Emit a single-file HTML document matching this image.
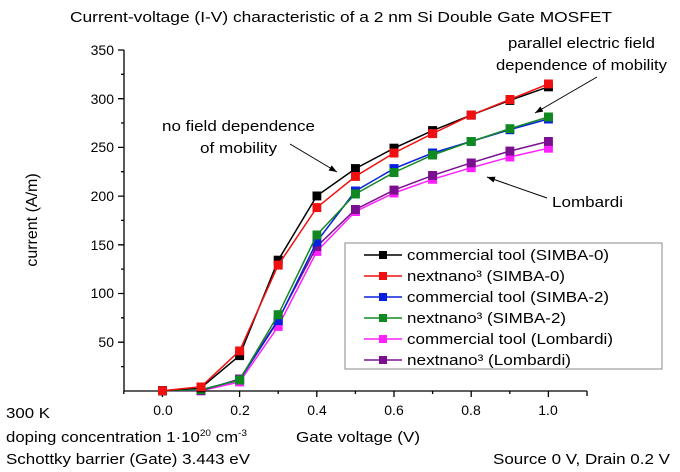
<!DOCTYPE html>
<html><head><meta charset="utf-8"><style>
html,body{margin:0;padding:0;background:#fff;}
svg{display:block;font-family:"Liberation Sans",Arial,sans-serif;}
</style></head><body>
<svg width="680" height="472" viewBox="0 0 680 472" xmlns="http://www.w3.org/2000/svg">
<defs>
<marker id="ah" markerWidth="8" markerHeight="6" refX="8" refY="3" orient="auto" markerUnits="userSpaceOnUse"><path d="M0,0 L8,3 L0,6 z" fill="#000"/></marker>
<marker id="m0" markerWidth="10" markerHeight="10" refX="4.5" refY="4.5" markerUnits="userSpaceOnUse"><rect width="9" height="9" fill="#000"/></marker>
<marker id="m1" markerWidth="10" markerHeight="10" refX="4.5" refY="4.5" markerUnits="userSpaceOnUse"><rect width="9" height="9" fill="#f01010"/></marker>
<marker id="m2" markerWidth="10" markerHeight="10" refX="4.5" refY="4.5" markerUnits="userSpaceOnUse"><rect width="9" height="9" fill="#0a20e0"/></marker>
<marker id="m3" markerWidth="10" markerHeight="10" refX="4.5" refY="4.5" markerUnits="userSpaceOnUse"><rect width="9" height="9" fill="#108a20"/></marker>
<marker id="m4" markerWidth="10" markerHeight="10" refX="4.5" refY="4.5" markerUnits="userSpaceOnUse"><rect width="9" height="9" fill="#ff20ff"/></marker>
<marker id="m5" markerWidth="10" markerHeight="10" refX="4.5" refY="4.5" markerUnits="userSpaceOnUse"><rect width="9" height="9" fill="#7a1090"/></marker>
</defs>
<rect width="680" height="472" fill="#fff"/>
<text x="70" y="22" font-size="15" textLength="542" lengthAdjust="spacingAndGlyphs">Current-voltage (I-V) characteristic of a 2 nm Si Double Gate MOSFET</text>
<g stroke="#000" stroke-width="1.3" fill="none">
<line x1="124" y1="50" x2="124" y2="391"/>
<line x1="124" y1="391" x2="587" y2="391"/>
<path d="M118,50H124M118,98.7H124M118,147.4H124M118,196.1H124M118,244.8H124M118,293.5H124M118,342.2H124M121,74.3H124M121,123H124M121,171.7H124M121,220.4H124M121,269.1H124M121,317.8H124M121,366.6H124"/>
<path d="M162.4,391V397M239.6,391V397M316.8,391V397M394,391V397M471.2,391V397M548.4,391V397M123.8,391V394M201,391V394M278.2,391V394M355.4,391V394M432.6,391V394M509.8,391V394M587,391V396"/>
</g>
<g font-size="14" text-anchor="end">
<text x="114" y="55">350</text><text x="114" y="104">300</text><text x="114" y="152">250</text><text x="114" y="201">200</text><text x="114" y="250">150</text><text x="114" y="298">100</text><text x="114" y="347">50</text>
</g>
<g font-size="14" text-anchor="middle">
<text x="163" y="415">0.0</text><text x="240" y="415">0.2</text><text x="317" y="415">0.4</text><text x="394" y="415">0.6</text><text x="471" y="415">0.8</text><text x="548" y="415">1.0</text>
</g>
<text x="296" y="442" font-size="15" textLength="124" lengthAdjust="spacingAndGlyphs">Gate voltage (V)</text>
<text transform="translate(37,220) rotate(-90)" font-size="16" text-anchor="middle">current (A/m)</text>
<g font-size="15">
<text x="6" y="418" textLength="44" lengthAdjust="spacingAndGlyphs">300 K</text>
<text x="6" y="442" textLength="241" lengthAdjust="spacingAndGlyphs">doping concentration 1·10<tspan dy="-6" font-size="9">20</tspan><tspan dy="6"> cm</tspan><tspan dy="-6" font-size="9">-3</tspan></text>
<text x="6" y="464" textLength="244" lengthAdjust="spacingAndGlyphs">Schottky barrier (Gate) 3.443 eV</text>
<text x="493" y="464" textLength="177" lengthAdjust="spacingAndGlyphs">Source 0 V, Drain 0.2 V</text>
</g>
<g font-size="15">
<text x="162" y="131" textLength="153" lengthAdjust="spacingAndGlyphs">no field dependence</text>
<text x="200" y="153" textLength="77" lengthAdjust="spacingAndGlyphs">of mobility</text>
<text x="508" y="48" textLength="147" lengthAdjust="spacingAndGlyphs">parallel electric field</text>
<text x="496" y="70" textLength="171" lengthAdjust="spacingAndGlyphs">dependence of mobility</text>
<text x="552" y="207" textLength="71" lengthAdjust="spacingAndGlyphs">Lombardi</text>
</g>
<g stroke="#000" stroke-width="1" marker-end="url(#ah)">
<line x1="290" y1="144" x2="337" y2="172"/>
<line x1="597" y1="77" x2="535" y2="113"/>
<line x1="547" y1="198" x2="487" y2="177"/>
</g>
<g stroke-width="1.5" fill="none">
<polyline stroke="#ff20ff" marker-start="url(#m4)" marker-mid="url(#m4)" marker-end="url(#m4)" points="162.4,390.7 201,390.7 239.6,381.9 278.2,326.4 316.8,251.4 355.4,211.5 394,193 432.6,179.3 471.2,167.7 509.8,157 548.4,148.2"/>
<polyline stroke="#7a1090" marker-start="url(#m5)" marker-mid="url(#m5)" marker-end="url(#m5)" points="162.4,390.7 201,390.7 239.6,379 278.2,319.6 316.8,246.5 355.4,209.5 394,190.1 432.6,175.4 471.2,162.8 509.8,151.1 548.4,141.4"/>
<polyline stroke="#0a20e0" marker-start="url(#m2)" marker-mid="url(#m2)" marker-end="url(#m2)" points="162.4,390.7 201,389.7 239.6,380 278.2,320.6 316.8,241.7 355.4,191 394,168.6 432.6,153 471.2,141.4 509.8,129.7 548.4,119"/>
<polyline stroke="#108a20" marker-start="url(#m3)" marker-mid="url(#m3)" marker-end="url(#m3)" points="162.4,390.7 201,389.7 239.6,380 278.2,314.7 316.8,234.9 355.4,194 394,172.5 432.6,155 471.2,141.4 509.8,128.7 548.4,117"/>
<polyline stroke="#000" marker-start="url(#m0)" marker-mid="url(#m0)" marker-end="url(#m0)" points="162.4,390.7 201,387.8 239.6,355.6 278.2,260.2 316.8,195.9 355.4,168.6 394,148.2 432.6,130.6 471.2,115.1 509.8,100.4 548.4,86.8"/>
<polyline stroke="#f01010" marker-start="url(#m1)" marker-mid="url(#m1)" marker-end="url(#m1)" points="162.4,390.7 201,386.8 239.6,350.8 278.2,265.1 316.8,207.6 355.4,176.4 394,153 432.6,133.6 471.2,115.1 509.8,99.5 548.4,83.9"/>
</g>
<rect x="345" y="243" width="317" height="126" fill="#fff" stroke="#888" stroke-width="1"/>
<g font-size="15" stroke-width="1.5">
<line x1="364" y1="255" x2="402" y2="255" stroke="#000"/><rect x="379" y="251" width="8" height="8" fill="#000"/><text x="407" y="260" textLength="202" lengthAdjust="spacingAndGlyphs">commercial tool (SIMBA-0)</text>
<line x1="364" y1="276" x2="402" y2="276" stroke="#f01010"/><rect x="379" y="272" width="8" height="8" fill="#f01010"/><text x="407" y="281" textLength="158" lengthAdjust="spacingAndGlyphs">nextnano³ (SIMBA-0)</text>
<line x1="364" y1="297" x2="402" y2="297" stroke="#0a20e0"/><rect x="379" y="293" width="8" height="8" fill="#0a20e0"/><text x="407" y="302" textLength="202" lengthAdjust="spacingAndGlyphs">commercial tool (SIMBA-2)</text>
<line x1="364" y1="318" x2="402" y2="318" stroke="#108a20"/><rect x="379" y="314" width="8" height="8" fill="#108a20"/><text x="407" y="323" textLength="159" lengthAdjust="spacingAndGlyphs">nextnano³ (SIMBA-2)</text>
<line x1="364" y1="339" x2="402" y2="339" stroke="#ff20ff"/><rect x="379" y="335" width="8" height="8" fill="#ff20ff"/><text x="407" y="344" textLength="206" lengthAdjust="spacingAndGlyphs">commercial tool (Lombardi)</text>
<line x1="364" y1="360" x2="402" y2="360" stroke="#7a1090"/><rect x="379" y="356" width="8" height="8" fill="#7a1090"/><text x="407" y="365" textLength="164" lengthAdjust="spacingAndGlyphs">nextnano³ (Lombardi)</text>
</g>
</svg>
</body></html>
